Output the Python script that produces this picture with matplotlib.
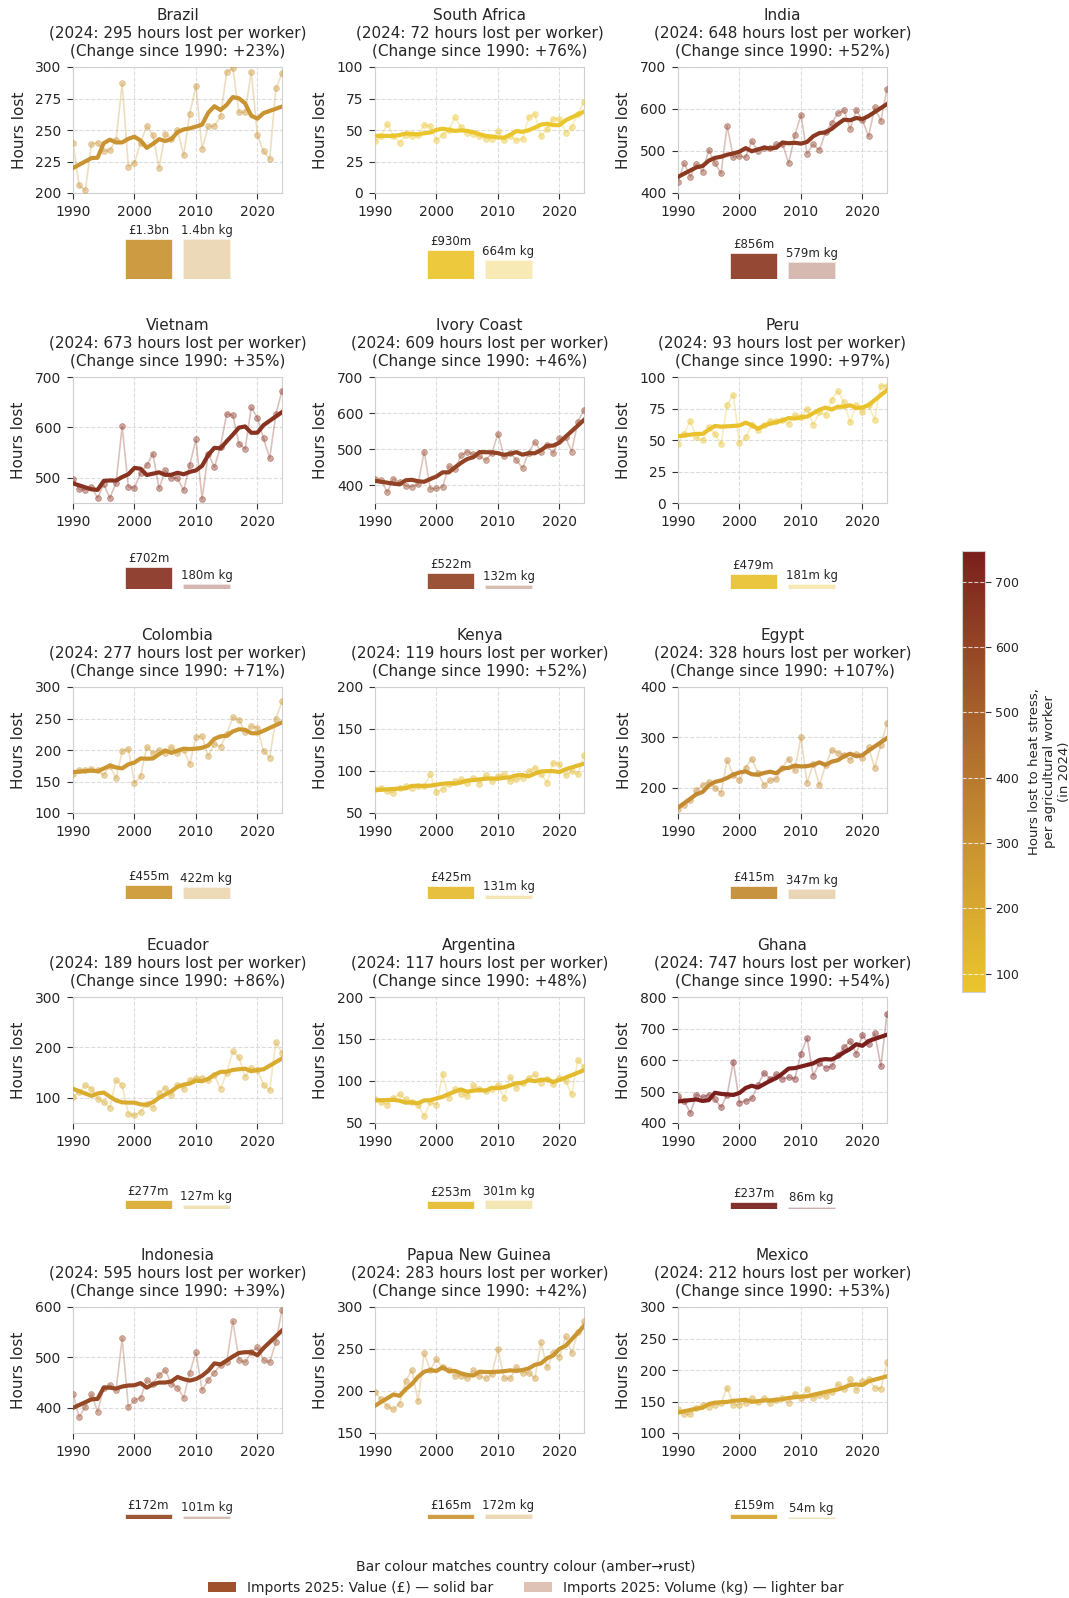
import numpy as np
import matplotlib
matplotlib.use("Agg")
import matplotlib.pyplot as plt
from matplotlib.colors import LinearSegmentedColormap, Normalize
from matplotlib.cm import ScalarMappable
from matplotlib.patches import Patch
from matplotlib.ticker import MultipleLocator

# annual hours lost to heat stress per agricultural worker, 1990-2024
years = np.arange(1990, 2025)

brazil = [240, 206, 202, 239, 240, 233, 234, 242, 287, 221, 224, 240, 253, 246, 220, 247, 243, 250, 230, 263,
          285, 235, 253, 253, 261, 296, 299, 264, 264, 296, 246, 233, 227, 283, 295]
south_africa = [41, 45, 55, 45, 40, 46, 45, 46, 54, 53, 42, 46, 50, 60, 52, 48, 47, 45, 43, 43,
                49, 42, 45, 42, 43, 60, 63, 45, 51, 59, 59, 48, 52, 63, 72]
india = [425, 471, 439, 469, 451, 502, 471, 447, 560, 485, 488, 485, 524, 499, 507, 508, 516, 517, 471, 537,
         586, 494, 516, 502, 545, 566, 590, 597, 553, 597, 574, 535, 604, 572, 648]
vietnam = [498, 477, 476, 482, 460, 487, 460, 490, 602, 482, 480, 510, 525, 548, 479, 515, 500, 499, 475, 526,
           576, 458, 548, 521, 562, 627, 624, 568, 557, 640, 619, 578, 539, 626, 673]
ivory_coast = [417, 413, 380, 418, 407, 397, 395, 402, 493, 389, 391, 395, 452, 444, 482, 493, 485, 480, 469, 488,
               543, 480, 490, 469, 447, 490, 520, 493, 510, 488, 530, 532, 493, 576, 609]
peru = [47.2, 55, 65, 52, 50, 60, 55, 47, 78, 86, 48, 52, 62, 58, 62, 65, 65, 66, 63, 70,
        68, 75, 62, 72, 70, 82, 89, 80, 64, 78, 72, 78, 66, 93, 93]
colombia = [162, 168, 168, 170, 168, 160, 175, 155, 198, 202, 148, 158, 205, 195, 200, 195, 205, 195, 200, 178,
            220, 222, 190, 210, 205, 225, 252, 248, 228, 238, 235, 198, 188, 250, 277]
kenya = [78.3, 80, 76, 74, 80, 82, 80, 82, 82, 96, 75, 78, 85, 88, 90, 86, 92, 85, 95, 88,
         94, 96, 88, 90, 92, 100, 104, 96, 86, 110, 108, 95, 100, 96, 119]
egypt = [158.5, 165, 175, 195, 205, 212, 200, 190, 255, 225, 215, 240, 258, 230, 205, 215, 218, 240, 258, 235,
         300, 210, 248, 205, 245, 275, 270, 265, 255, 268, 260, 280, 240, 285, 328]
ecuador = [101.6, 112, 125, 118, 98, 92, 80, 135, 125, 68, 65, 72, 88, 80, 110, 120, 105, 125, 118, 135,
           140, 140, 135, 145, 118, 150, 192, 180, 142, 160, 155, 125, 115, 210, 189]
argentina = [79, 75, 72, 80, 84, 78, 75, 72, 58, 75, 72, 108, 80, 90, 85, 82, 95, 90, 88, 90,
             95, 80, 105, 92, 98, 104, 108, 98, 102, 96, 104, 100, 84, 125, 117]
ghana = [485, 470, 432, 490, 482, 490, 475, 450, 490, 595, 465, 470, 478, 520, 560, 540, 555, 540, 545, 540,
         620, 670, 550, 590, 575, 580, 615, 640, 660, 620, 680, 650, 685, 580, 747]
indonesia = [428, 382, 402, 428, 392, 440, 445, 435, 538, 402, 415, 420, 455, 448, 465, 475, 448, 440, 420, 470,
             510, 435, 455, 470, 485, 490, 572, 495, 490, 510, 520, 495, 490, 530, 595]
png = [199, 190, 182, 178, 185, 212, 225, 188, 245, 225, 238, 228, 225, 218, 218, 215, 225, 218, 215, 220,
       250, 215, 215, 228, 222, 222, 215, 258, 228, 245, 240, 265, 245, 270, 283]
mexico = [138.6, 130, 130, 140, 145, 142, 145, 148, 172, 145, 145, 148, 155, 150, 155, 148, 152, 155, 148, 162,
          155, 170, 155, 160, 158, 165, 178, 170, 185, 168, 182, 185, 172, 170, 212]

countries = ["Brazil", "South Africa", "India", "Vietnam", "Ivory Coast", "Peru", "Colombia", "Kenya",
             "Egypt", "Ecuador", "Argentina", "Ghana", "Indonesia", "Papua New Guinea", "Mexico"]
series = [brazil, south_africa, india, vietnam, ivory_coast, peru, colombia, kenya,
          egypt, ecuador, argentina, ghana, indonesia, png, mexico]

# imports 2025: value in £m, volume in million kg
import_value = [1300, 930, 856, 702, 522, 479, 455, 425, 415, 277, 253, 237, 172, 165, 159]
import_volume = [1400, 664, 579, 180, 132, 181, 422, 131, 347, 127, 301, 86, 101, 172, 54]

# axis ranges per panel
y_lims = [(200, 300), (0, 100), (400, 700), (450, 700), (350, 700), (0, 100), (100, 300), (50, 200),
          (150, 400), (50, 300), (50, 200), (400, 800), (350, 600), (150, 300), (100, 300)]
y_steps = [25, 25, 100, 100, 100, 25, 50, 50, 100, 100, 50, 100, 100, 50, 50]


def smooth(y, window=7):
    # centred moving average, straight-line fit over the edge windows
    y = np.asarray(y, float)
    n = len(y)
    h = window // 2
    out = np.empty(n)
    out[h:n - h] = np.convolve(y, np.ones(window) / window, mode='valid')
    x = np.arange(window)
    p = np.polyfit(x, y[:window], 1)
    out[:h] = np.polyval(p, x[:h])
    p = np.polyfit(x, y[-window:], 1)
    out[n - h:] = np.polyval(p, x[window - h:])
    return out


def fmt_value(v):
    return f"£{v / 1000:.1f}bn" if v >= 1000 else f"£{v:.0f}m"


def fmt_volume(v):
    return f"{v / 1000:.1f}bn kg" if v >= 1000 else f"{v:.0f}m kg"


plt.rcParams['font.family'] = ['DejaVu Sans']
plt.rcParams['text.color'] = '#262626'
plt.rcParams['axes.labelcolor'] = '#262626'
plt.rcParams['xtick.color'] = '#262626'
plt.rcParams['ytick.color'] = '#262626'

cmap = LinearSegmentedColormap.from_list("amber_rust", ["#EBC52C", "#C99232", "#A35A2A", "#7A1F1C"])
last = [s[-1] for s in series]
norm = Normalize(min(last), max(last))

W, H = 1069, 1598
fig = plt.figure(figsize=(W / 100, H / 100), dpi=100)


def px_axes(left, top, width, height):
    return fig.add_axes([left / W, 1 - (top + height) / H, width / W, height / H])


col_left = [73, 375, 678]
row_top = [67, 377, 687, 997, 1307]
aw, ah = 209, 126
max_val = max(import_value)
max_vol = max(import_volume)

for i, name in enumerate(countries):
    r, c = divmod(i, 3)
    vals = np.array(series[i], float)
    color = cmap(norm(vals[-1]))
    ax = px_axes(col_left[c], row_top[r], aw, ah)
    ax.plot(years, vals, '-', color=color, alpha=0.3, lw=1.2, zorder=2)
    ax.plot(years, vals, 'o', color=color, alpha=0.42, ms=4.2, mec=color, mew=0.6, zorder=3)
    ax.plot(years, smooth(vals), color=color, lw=3, zorder=4)
    ax.set_xlim(1990, 2024)
    ax.set_ylim(*y_lims[i])
    ax.xaxis.set_major_locator(MultipleLocator(10))
    ax.yaxis.set_major_locator(MultipleLocator(y_steps[i]))
    ax.grid(True, ls='--', color='#dcdcdc', lw=0.8)
    ax.set_axisbelow(True)
    for sp in ax.spines.values():
        sp.set_color('#d0d0d0')
    ax.tick_params(labelsize=10, length=4.5, width=0.8, pad=4, color='#333333')
    ax.set_ylabel("Hours lost", fontsize=11, labelpad=6)
    pct = (vals[-1] / vals[0] - 1) * 100
    ax.set_title(f"{name}\n(2024: {vals[-1]:.0f} hours lost per worker)\n(Change since 1990: {pct:+.0f}%)",
                 fontsize=11, pad=8.2, linespacing=1.24)

    # import bars under each panel
    bax = px_axes(col_left[c], row_top[r] + ah + 86 - 40, aw, 40)
    hv = import_value[i] / max_val
    hw = import_volume[i] / max_vol
    bax.bar([0], [hv], width=0.8, color=color, alpha=0.92, edgecolor='white', lw=0.5)
    bax.bar([1], [hw], width=0.8, color=color, alpha=0.35, edgecolor='white', lw=0.5)
    bax.annotate(fmt_value(import_value[i]), (0, hv), xytext=(0, 1.5), textcoords='offset points',
                 ha='center', va='bottom', fontsize=8.5, annotation_clip=False)
    bax.annotate(fmt_volume(import_volume[i]), (1, hw), xytext=(0, 1.5), textcoords='offset points',
                 ha='center', va='bottom', fontsize=8.5, annotation_clip=False)
    bax.set_xlim(-1.3, 2.3)
    bax.set_ylim(0, 1)
    bax.axis('off')

# colour bar
cax = px_axes(962, 551, 23, 441)
sm = ScalarMappable(norm=norm, cmap=cmap)
cb = fig.colorbar(sm, cax=cax)
cb.outline.set_edgecolor('#d0d0d0')
cb.set_ticks([100, 200, 300, 400, 500, 600, 700])
cax.tick_params(labelsize=9, length=4, color='#333333')
for t in [100, 200, 300, 400, 500, 600, 700]:
    cax.axhline(t, color='white', ls='--', lw=0.8, alpha=0.75)
cb.set_label("Hours lost to heat stress,\nper agricultural worker\n(in 2024)", fontsize=9.5, labelpad=6)

handles = [Patch(facecolor='#A0522D', label="Imports 2025: Value (£) — solid bar"),
           Patch(facecolor='#A0522D', alpha=0.35, label="Imports 2025: Volume (kg) — lighter bar")]
fig.legend(handles=handles, loc='lower center', bbox_to_anchor=(0.492, -0.006), ncol=2, frameon=False,
           fontsize=10, title="Bar colour matches country colour (amber→rust)", title_fontsize=10,
           columnspacing=2.2)

fig.savefig("out.png", dpi=100)
